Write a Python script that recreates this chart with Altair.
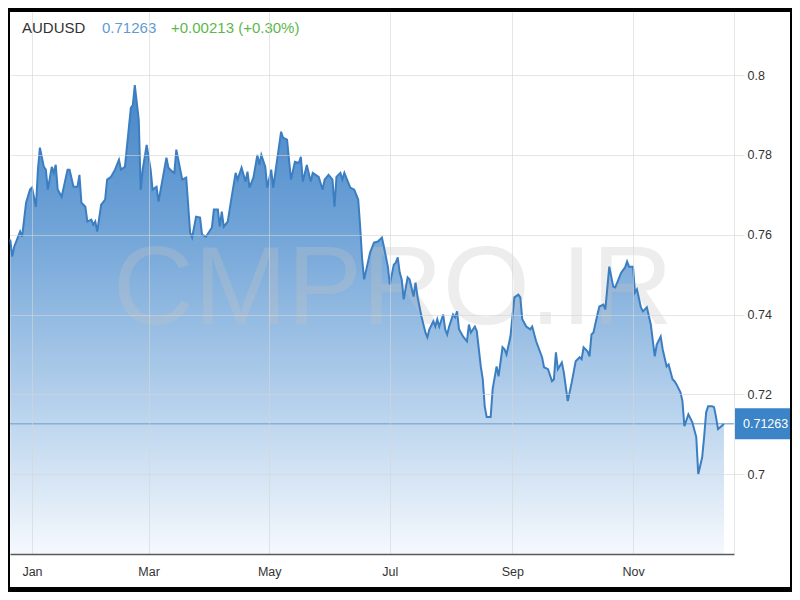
import altair as alt
import pandas as pd

# ---- data ----
days = [-11, -10, -9, -6, -5, -3, -1, 0, 2, 3,
        4, 6, 7, 8, 10, 11, 12, 13, 15, 18,
        19, 21, 23, 24, 25, 27, 28, 30, 31, 32,
        33, 35, 37, 38, 40, 42, 44, 45, 47, 50,
        51, 52, 54, 55, 56, 58, 60, 61, 63, 64,
        66, 68, 69, 71, 72, 73, 75, 76, 78, 80,
        81, 83, 85, 86, 88, 91, 92, 94, 95, 96,
        97, 99, 101, 103, 104, 106, 108, 109, 110, 112,
        114, 115, 116, 118, 119, 121, 122, 124, 126, 127,
        129, 131, 133, 135, 136, 137, 139, 141, 142, 145,
        147, 148, 150, 152, 153, 154, 156, 157, 158, 160,
        161, 163, 165, 166, 167, 168, 171, 173, 175, 177,
        178, 180, 181, 183, 184, 185, 186, 187, 188, 190,
        191, 193, 194, 195, 197, 199, 200, 201, 203, 204,
        205, 206, 208, 209, 210, 211, 213, 214, 215, 216,
        218, 220, 221, 222, 224, 225, 227, 228, 229, 230,
        232, 233, 235, 236, 238, 239, 240, 242, 244, 246,
        247, 248, 250, 252, 253, 255, 258, 259, 261, 263,
        264, 265, 266, 268, 269, 271, 273, 275, 277, 278,
        279, 281, 282, 283, 284, 286, 287, 289, 290, 292,
        294, 295, 296, 298, 300, 301, 302, 304, 305, 306,
        308, 309, 311, 313, 315, 316, 318, 319, 321, 322,
        324, 325, 326, 328, 329, 330, 332, 334, 336, 337,
        339, 340, 341, 342, 344, 345, 346, 347, 350]

close = [0.7588, 0.7545, 0.757, 0.7608, 0.7595, 0.768, 0.7713, 0.7718, 0.767, 0.7763,
         0.7818, 0.777, 0.7763, 0.7713, 0.777, 0.7755, 0.7775, 0.7713, 0.7695, 0.7763,
         0.7763, 0.772, 0.772, 0.775, 0.768, 0.767, 0.7633, 0.7638, 0.7625, 0.7633,
         0.7608, 0.7675, 0.7688, 0.7738, 0.7745, 0.7763, 0.7788, 0.7763, 0.777, 0.7918,
         0.7925, 0.7975, 0.7888, 0.7713, 0.7763, 0.7825, 0.7763, 0.7713, 0.772, 0.7683,
         0.7738, 0.7793, 0.7768, 0.7758, 0.7755, 0.7813, 0.7763, 0.7738, 0.7743, 0.7605,
         0.7593, 0.7645, 0.7643, 0.76, 0.7595, 0.7618, 0.7663, 0.7663, 0.762, 0.7658,
         0.762, 0.7633, 0.7695, 0.7755, 0.7738, 0.7768, 0.7733, 0.7758, 0.7718, 0.7743,
         0.78, 0.7775, 0.78, 0.777, 0.7718, 0.7763, 0.7718, 0.7788, 0.7858, 0.7843,
         0.7838, 0.7738, 0.7783, 0.778, 0.7795, 0.7733, 0.7775, 0.7733, 0.7755, 0.7745,
         0.7713, 0.7738, 0.775, 0.7738, 0.767, 0.7745, 0.7755, 0.7738, 0.7755, 0.773,
         0.7718, 0.7713, 0.7688, 0.762, 0.7538, 0.7488, 0.7555, 0.758, 0.7583, 0.7593,
         0.757, 0.752, 0.7475, 0.7525, 0.753, 0.7543, 0.7505, 0.7488, 0.7438, 0.7493,
         0.7488, 0.7445, 0.748, 0.7445, 0.7395, 0.7355, 0.7343, 0.7363, 0.7383, 0.737,
         0.7388, 0.737, 0.74, 0.7363, 0.735, 0.737, 0.74, 0.7393, 0.7408, 0.7363,
         0.7345, 0.7333, 0.7375, 0.7355, 0.737, 0.7358, 0.727, 0.7238, 0.717, 0.7143,
         0.7143, 0.7213, 0.727, 0.7245, 0.7318, 0.7313, 0.73, 0.7345, 0.7443, 0.745,
         0.7443, 0.7388, 0.737, 0.7363, 0.737, 0.7333, 0.7293, 0.7268, 0.7263, 0.7233,
         0.7238, 0.7305, 0.7263, 0.728, 0.7255, 0.7183, 0.723, 0.7283, 0.7293, 0.7288,
         0.7318, 0.7308, 0.7295, 0.735, 0.7355, 0.74, 0.742, 0.7425, 0.7413, 0.752,
         0.747, 0.7468, 0.748, 0.7505, 0.7518, 0.7533, 0.752, 0.752, 0.7455, 0.7463,
         0.7418, 0.7408, 0.7418, 0.7375, 0.7295, 0.7325, 0.7345, 0.7313, 0.727, 0.7275,
         0.7238, 0.7233, 0.7225, 0.7205, 0.7183, 0.712, 0.715, 0.713, 0.7093, 0.7,
         0.7043, 0.7095, 0.7155, 0.717, 0.717, 0.7168, 0.7143, 0.7113, 0.7126]

last_price = 0.71263
y_floor = 0.68
y_ceiling = 0.8158
ticker = "AUDUSD"
price_text = "0.71263"
change_text = "+0.00213 (+0.30%)"
watermark = "CMPRO.IR"
month_ticks = [1, 3, 5, 7, 9, 11]
y_ticks = [0.7, 0.72, 0.74, 0.76, 0.78, 0.8]

base = pd.Timestamp("2018-01-01")
df = pd.DataFrame({
    "date": (base + pd.to_timedelta(days, unit="D")).strftime("%Y-%m-%d"),
    "close": close,
})
one = pd.DataFrame({"k": [0]})

FONT = "Liberation Sans, Arial, sans-serif"
GRID = "#d6d6d6"

x_enc = alt.X(
    "date:T",
    scale=alt.Scale(
        type="utc",
        domain=[alt.DateTime(year=2017, month=12, date=20, hours=21, utc=True),
                alt.DateTime(year=2018, month=12, date=22, hours=2, utc=True)],
    ),
    axis=alt.Axis(
        values=[alt.DateTime(year=2018, month=m, date=1, utc=True) for m in month_ticks],
        format="%b", title=None, grid=True, gridColor=GRID, gridOpacity=0.6,
        ticks=False, tickSize=0, labelPadding=11, domainColor="#5a5a5a", domainWidth=1.5,
        labelFont=FONT, labelFontSize=12.5, labelColor="#333333", zindex=1,
    ),
)
y_enc = alt.Y(
    "close:Q",
    scale=alt.Scale(domain=[y_floor, y_ceiling], nice=False, zero=False),
    axis=alt.Axis(
        orient="right", values=y_ticks, format="~g", title=None, grid=True,
        gridColor=GRID, gridOpacity=0.6, tickColor=GRID, tickOpacity=0.6, tickSize=10,
        labelPadding=3, domainColor=GRID, domainOpacity=0.6,
        labelFont=FONT, labelFontSize=12.5, labelColor="#333333", zindex=1,
    ),
)

panel = alt.Chart(one).mark_rect(color="white").encode(
    x=alt.value(0), x2=alt.value(780), y=alt.value(0), y2=alt.value(575)
)

area = alt.Chart(df).mark_area(
    color=alt.Gradient(
        gradient="linear",
        stops=[alt.GradientStop(color="#4686c8", offset=0),
               alt.GradientStop(color="#6fa3d7", offset=0.3),
               alt.GradientStop(color="#b6d1ec", offset=0.68),
               alt.GradientStop(color="#f5f9fd", offset=1)],
        x1=1, x2=1, y1=0, y2=1,
    )
).encode(x=x_enc, y=y_enc, y2=alt.datum(y_floor))

wm = alt.Chart(one).mark_text(
    text=watermark, font=FONT,
    fontSize=112, color="#c4c4c4", opacity=0.3, align="center", baseline="middle",
).encode(x=alt.value(383), y=alt.value(278))

price_rule = alt.Chart(one).mark_rule(color="#7fa8d2", strokeWidth=1.5, opacity=0.85).encode(
    y=alt.datum(last_price)
)

line = alt.Chart(df).mark_line(color="#3b7ec2", strokeWidth=2).encode(x="date:T", y="close:Q")

price_box = alt.Chart(one).mark_tick(
    orient="horizontal", size=55, thickness=31, color="#3a84c7", opacity=1
).encode(x=alt.value(752.5), y=alt.datum(last_price))

price_lbl = alt.Chart(one).mark_text(
    text=price_text, color="white", font=FONT, fontSize=12.5, align="left", baseline="middle"
).encode(x=alt.value(733), y=alt.datum(last_price))

t1 = alt.Chart(one).mark_text(
    text=ticker, color="#333333", font=FONT, fontSize=15, align="left", baseline="middle"
).encode(x=alt.value(12), y=alt.value(16))
t2 = alt.Chart(one).mark_text(
    text=price_text, color="#5f9bd3", font=FONT, fontSize=15, align="left", baseline="middle"
).encode(x=alt.value(92), y=alt.value(16))
t3 = alt.Chart(one).mark_text(
    text=change_text, color="#5db84a", font=FONT, fontSize=15, align="left", baseline="middle"
).encode(x=alt.value(161), y=alt.value(16))

chart = alt.layer(
    panel, area, wm, price_rule, line, price_box, price_lbl, t1, t2, t3
).properties(
    width=724, height=542,
    autosize=alt.AutoSizeParams(type="none"),
    padding={"left": 2, "top": 4, "right": 58, "bottom": 38},
    background="black",
).configure_view(stroke=None)

chart.save("out.html", embed_options={"renderer": "svg", "actions": False})
